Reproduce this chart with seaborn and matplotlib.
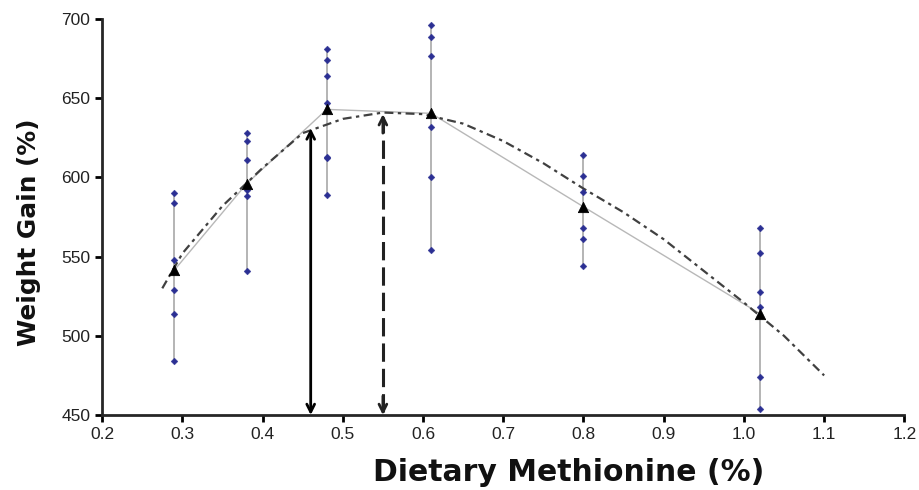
import numpy as np
import pandas as pd
import matplotlib
matplotlib.use("Agg")
import matplotlib.pyplot as plt
import seaborn as sns

# dietary methionine levels (%) and individual weight gains (%)
methionine = [0.29, 0.38, 0.48, 0.61, 0.80, 1.02]
gains = [
    [590, 584, 548, 529, 514, 484],
    [628, 623, 611, 592, 588, 541],
    [681, 674, 664, 647, 613, 612, 589],
    [696, 689, 677, 632, 600, 554],
    [614, 601, 591, 568, 561, 544],
    [568, 552, 528, 518, 474, 454],
]
group_means = [541.5, 596, 643, 640.5, 581.5, 514]

# fitted response curve
curve_x = [0.275, 0.30, 0.35, 0.40, 0.45, 0.50, 0.55, 0.60, 0.65, 0.70,
           0.75, 0.80, 0.85, 0.90, 0.95, 1.00, 1.05, 1.10]
curve_y = [530, 552, 582, 606, 628, 637, 641, 640, 634, 623,
           609, 593, 578, 561, 541, 521, 500, 475]

# requirement estimates (arrows)
broken_line_req, broken_line_gain = 0.46, 631
quad_req, quad_gain = 0.55, 640

points = pd.DataFrame(
    [(m, g) for m, vals in zip(methionine, gains) for g in vals],
    columns=["methionine", "gain"],
)
means = pd.DataFrame({"methionine": methionine, "gain": group_means})
curve = pd.DataFrame({"methionine": curve_x, "gain": curve_y})

sns.set_style("ticks")
plt.rcParams["font.family"] = ["Liberation Sans", "DejaVu Sans"]

fig = plt.figure(figsize=(9.2, 4.9), dpi=100)
ax = fig.add_axes([0.111, 0.153, 0.872, 0.808])

# range lines per group
ax.vlines(methionine, [min(v) for v in gains], [max(v) for v in gains],
          color="#a8a8a8", lw=1.2, zorder=1)

# line joining the group means
sns.lineplot(data=means, x="methionine", y="gain", ax=ax, color="#b8b8b8",
             lw=1.0, zorder=2)

# fitted curve
sns.lineplot(data=curve, x="methionine", y="gain", ax=ax, color="#404040",
             lw=1.6, zorder=3)
ax.lines[-1].set_linestyle((0, (4, 2, 1.5, 2)))

sns.scatterplot(data=points, x="methionine", y="gain", ax=ax, marker="D",
                s=12, color="#2b2f93", edgecolor="#2b2f93", zorder=4)
sns.scatterplot(data=means, x="methionine", y="gain", ax=ax, marker="^",
                s=55, color="black", edgecolor="black", zorder=5)

# solid double arrow
ax.annotate("", xy=(broken_line_req, broken_line_gain),
            xytext=(broken_line_req, 450),
            arrowprops=dict(arrowstyle="<->", color="black", lw=2,
                            mutation_scale=14, shrinkA=0, shrinkB=0),
            zorder=6)

# dashed double arrow
ax.plot([quad_req, quad_req], [452, quad_gain - 2], color="#222222", lw=2.2,
        linestyle=(0, (6, 2.3)), zorder=6)
for y0, y1 in [(quad_gain - 12, quad_gain), (462, 450)]:
    ax.annotate("", xy=(quad_req, y1), xytext=(quad_req, y0),
                arrowprops=dict(arrowstyle="->", color="#222222", lw=2,
                                mutation_scale=14, shrinkA=0, shrinkB=0),
                zorder=6)

ax.set_xlim(0.2, 1.2)
ax.set_ylim(450, 700)
ax.set_xticks(np.arange(0.2, 1.21, 0.1))
ax.set_yticks(range(450, 701, 50))
ax.xaxis.set_major_formatter(matplotlib.ticker.FormatStrFormatter("%.1f"))
ax.tick_params(axis="both", labelsize=12.5, width=2, length=5,
               colors="black", labelcolor="#222222")
for side in ["top", "right"]:
    ax.spines[side].set_visible(False)
for side in ["left", "bottom"]:
    ax.spines[side].set_linewidth(2)

ax.set_xlabel("Dietary Methionine (%)", fontsize=21.5, fontweight="bold",
              family="DejaVu Sans", color="#111111")
ax.set_ylabel("Weight Gain (%)", fontsize=17.8, fontweight="bold",
              family="DejaVu Sans", color="#111111")
ax.xaxis.set_label_coords(0.582, -0.108)
ax.yaxis.set_label_coords(-0.076, 0.462)

fig.savefig("out.png", dpi=100)
